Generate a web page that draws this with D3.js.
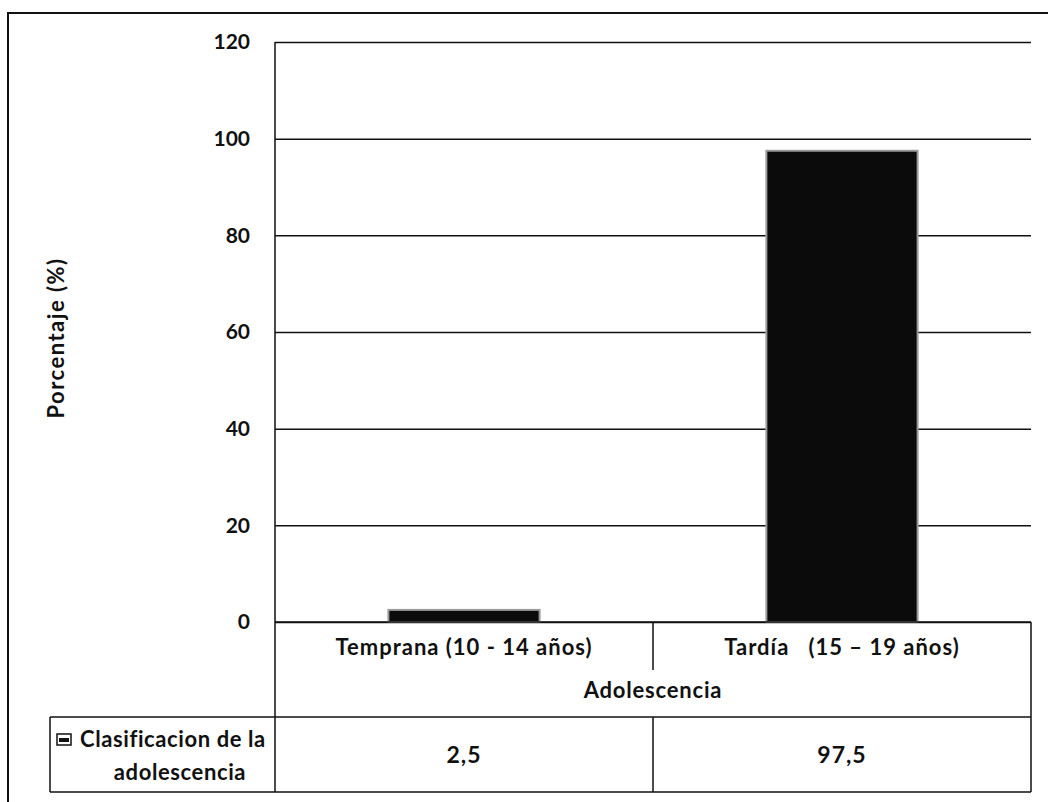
<!DOCTYPE html>
<html>
<head>
<meta charset="utf-8">
<script src="https://cdn.jsdelivr.net/npm/d3@7"></script>
<style>
  body { margin: 0; background: #fff; }
  text { font-family: Lato, "Open Sans", sans-serif; fill: #111; }
</style>
</head>
<body>
<svg id="chart" width="1048" height="802"></svg>
<script>
// data
const categories = ['Temprana (10 - 14 años)', 'Tardía   (15 – 19 años)'];
const values = [2.5, 97.5];
const valueLabels = ['2,5', '97,5'];
const yTicks = [0, 20, 40, 60, 80, 100, 120];
const groupLabel = 'Adolescencia';
const seriesName = ['Clasificacion de la', 'adolescencia'];
const yTitle = 'Porcentaje (%)';

const svg = d3.select('#chart');

// layout of plot and data table
const plotLeft = 275, plotRight = 1031, plotTop = 42, plotBottom = 622;
const catRowBottom = 670, groupRowBottom = 717, tableBottom = 792;
const legendLeft = 50;

let y = d3.scaleLinear().domain([0, 120]).range([plotBottom, plotTop]);
let x = d3.scaleBand().domain(categories).range([plotLeft, plotRight]).padding(0);

// outer frame (cut at right and bottom like the scan)
svg.append('rect')
  .attr('x', 8).attr('y', 13)
  .attr('width', 1060).attr('height', 820)
  .attr('fill', 'none')
  .attr('stroke', '#111')
  .attr('stroke-width', 2);

// gridlines
let grid = svg.append('g')
  .attr('transform', 'translate(' + plotLeft + ',0)')
  .call(d3.axisLeft(y).tickValues(yTicks).tickSize(-(plotRight - plotLeft)).tickFormat(''));
grid.select('.domain').remove();
grid.selectAll('.tick line')
  .attr('stroke', '#111')
  .attr('stroke-width', 1.5);

// tick labels
let yAxis = svg.append('g')
  .attr('transform', 'translate(' + (plotLeft - 25) + ',0)')
  .call(d3.axisLeft(y).tickValues(yTicks).tickSize(0).tickPadding(0));
yAxis.select('.domain').remove();
yAxis.selectAll('.tick text')
  .attr('font-size', 21)
  .attr('font-weight', 700)
  .attr('fill', '#111')
  .style('font-family', 'Lato, sans-serif');

// y title
svg.append('text')
  .attr('transform', 'translate(64,338) rotate(-90)')
  .attr('text-anchor', 'middle')
  .attr('font-size', 22)
  .attr('font-weight', 700)
  .style('letter-spacing', '1.5px')
  .text(yTitle);

// bars
const barFrac = 0.4;
svg.selectAll('.bar')
  .data(values)
  .enter()
  .append('rect')
  .attr('class', 'bar')
  .attr('x', function(d, i) {
    return x(categories[i]) + x.bandwidth() * (1 - barFrac) / 2;
  })
  .attr('width', x.bandwidth() * barFrac)
  .attr('y', function(d) { return y(d); })
  .attr('height', function(d) { return y(0) - y(d); })
  .attr('fill', '#0b0b0b')
  .attr('stroke', '#9a9a9a')
  .attr('stroke-width', 2);

// table lines
const lines = [
  // left axis, running down through the table
  [plotLeft, plotTop, plotLeft, tableBottom],
  [plotRight, plotBottom, plotRight, tableBottom],
  [plotLeft, plotBottom, plotRight, plotBottom],
  [legendLeft, groupRowBottom, plotRight, groupRowBottom],
  [legendLeft, tableBottom, plotRight, tableBottom],
  [legendLeft, groupRowBottom, legendLeft, tableBottom],
  [x(categories[1]), plotBottom, x(categories[1]), catRowBottom],
  [x(categories[1]), groupRowBottom, x(categories[1]), tableBottom]
];
svg.selectAll('.tline')
  .data(lines)
  .enter()
  .append('line')
  .attr('class', 'tline')
  .attr('x1', function(d) { return d[0]; })
  .attr('y1', function(d) { return d[1]; })
  .attr('x2', function(d) { return d[2]; })
  .attr('y2', function(d) { return d[3]; })
  .attr('stroke', '#111')
  .attr('stroke-width', 1.5);

// category labels
svg.selectAll('.cat')
  .data(categories)
  .enter()
  .append('text')
  .attr('class', 'cat')
  .attr('x', function(d) { return x(d) + x.bandwidth() / 2; })
  .attr('y', 647)
  .attr('dy', '0.35em')
  .attr('text-anchor', 'middle')
  .attr('font-size', 22)
  .attr('font-weight', 700)
  .style('letter-spacing', '1px')
  .style('white-space', 'pre')
  .text(function(d) { return d; });

svg.append('text')
  .attr('x', (plotLeft + plotRight) / 2)
  .attr('y', 690)
  .attr('dy', '0.35em')
  .attr('text-anchor', 'middle')
  .attr('font-size', 22)
  .attr('font-weight', 700)
  .style('letter-spacing', '0.8px')
  .text(groupLabel);

// data row values
svg.selectAll('.val')
  .data(valueLabels)
  .enter()
  .append('text')
  .attr('class', 'val')
  .attr('x', function(d, i) { return x(categories[i]) + x.bandwidth() / 2; })
  .attr('y', 755)
  .attr('dy', '0.35em')
  .attr('text-anchor', 'middle')
  .attr('font-size', 23)
  .attr('font-weight', 700)
  .style('letter-spacing', '1px')
  .text(function(d) { return d; });

// legend key + series name
svg.append('rect')
  .attr('x', 57).attr('y', 734)
  .attr('width', 14).attr('height', 11)
  .attr('fill', '#fff')
  .attr('stroke', '#111')
  .attr('stroke-width', 1.5);
svg.append('rect')
  .attr('x', 59).attr('y', 738)
  .attr('width', 10).attr('height', 4)
  .attr('fill', '#111');

svg.append('text')
  .attr('x', 80)
  .attr('y', 739)
  .attr('dy', '0.35em')
  .attr('font-size', 22)
  .attr('font-weight', 700)
  .style('letter-spacing', '0.6px')
  .text(seriesName[0]);
svg.append('text')
  .attr('x', 180)
  .attr('y', 772)
  .attr('dy', '0.35em')
  .attr('text-anchor', 'middle')
  .attr('font-size', 22)
  .attr('font-weight', 700)
  .style('letter-spacing', '0.6px')
  .text(seriesName[1]);
</script>
</body>
</html>
